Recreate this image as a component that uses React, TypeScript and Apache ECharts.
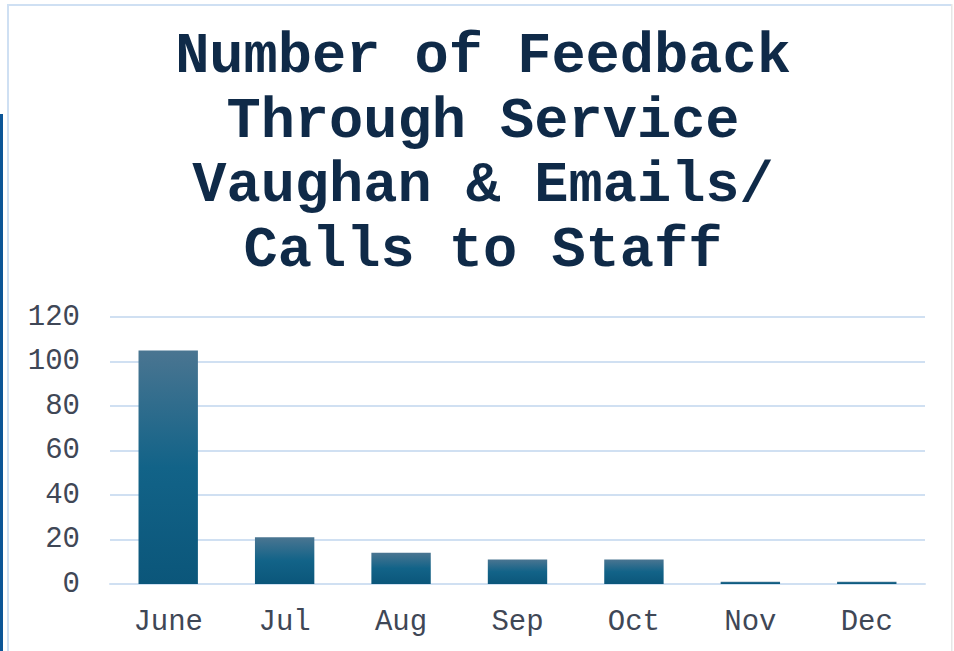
import React, { useEffect, useRef } from "react";
import * as echarts from "echarts";

const titleLines = ["Number of Feedback", "Through Service", "Vaughan & Emails/", "Calls to Staff"];
const months = ["June", "Jul", "Aug", "Sep", "Oct", "Nov", "Dec"];
const feedbackCounts = [105, 21, 14, 11, 11, 1, 1];
const yTicks = { min: 0, max: 120, interval: 20 };

const FONT = "'Courier New', 'Liberation Mono', monospace";

export default function App() {
  const ref = useRef<HTMLDivElement>(null);
  useEffect(() => {
    if (!ref.current) return;
    const chart = echarts.init(ref.current, undefined, { renderer: "svg" });
    chart.setOption({
      animation: false,
      backgroundColor: "#ffffff",
      title: {
        text: titleLines.join("\n"),
        left: 478,
        textAlign: "center",
        top: 20,
        textStyle: {
          fontFamily: FONT,
          fontWeight: "bold",
          fontSize: 57,
          lineHeight: 64.5,
          color: "#0f2a48",
        },
      },
      graphic: [
        { type: "rect", shape: { x: 7, y: 4, width: 944, height: 2 }, style: { fill: "#cfe0f3" }, silent: true },
        { type: "rect", shape: { x: 7, y: 4, width: 2, height: 647 }, style: { fill: "#cfe0f3" }, silent: true },
        { type: "rect", shape: { x: 951, y: 4, width: 1.5, height: 647 }, style: { fill: "#e6e6e6" }, silent: true },
        { type: "rect", shape: { x: 0, y: 114, width: 3, height: 537 }, style: { fill: "#0b5597" }, silent: true },
      ],
      grid: { left: 110, right: 29, top: 317, bottom: 67, containLabel: false },
      xAxis: {
        type: "category",
        data: months,
        axisLine: { show: true, lineStyle: { color: "#d0e0f2", width: 2 } },
        axisTick: { show: false },
        axisLabel: { fontFamily: FONT, fontSize: 29, color: "#3f4756", margin: 24 },
      },
      yAxis: {
        type: "value",
        min: yTicks.min,
        max: yTicks.max,
        interval: yTicks.interval,
        axisLine: { show: false },
        axisTick: { show: false },
        axisLabel: { fontFamily: FONT, fontSize: 29, color: "#3f4756", margin: 30 },
        splitLine: { lineStyle: { color: "#d0e0f2", width: 2 } },
      },
      series: [
        {
          type: "bar",
          data: feedbackCounts,
          barWidth: "51%",
          itemStyle: {
            color: new echarts.graphic.LinearGradient(0, 0, 0, 1, [
              { offset: 0, color: "#4a7591" },
              { offset: 0.5, color: "#126388" },
              { offset: 1, color: "#0b567a" },
            ]),
          },
        },
      ],
    });
    return () => chart.dispose();
  }, []);
  return (
    <div
      ref={ref}
      style={{ position: "fixed", left: 0, top: 0, width: 954, height: 651 }}
    />
  );
}
